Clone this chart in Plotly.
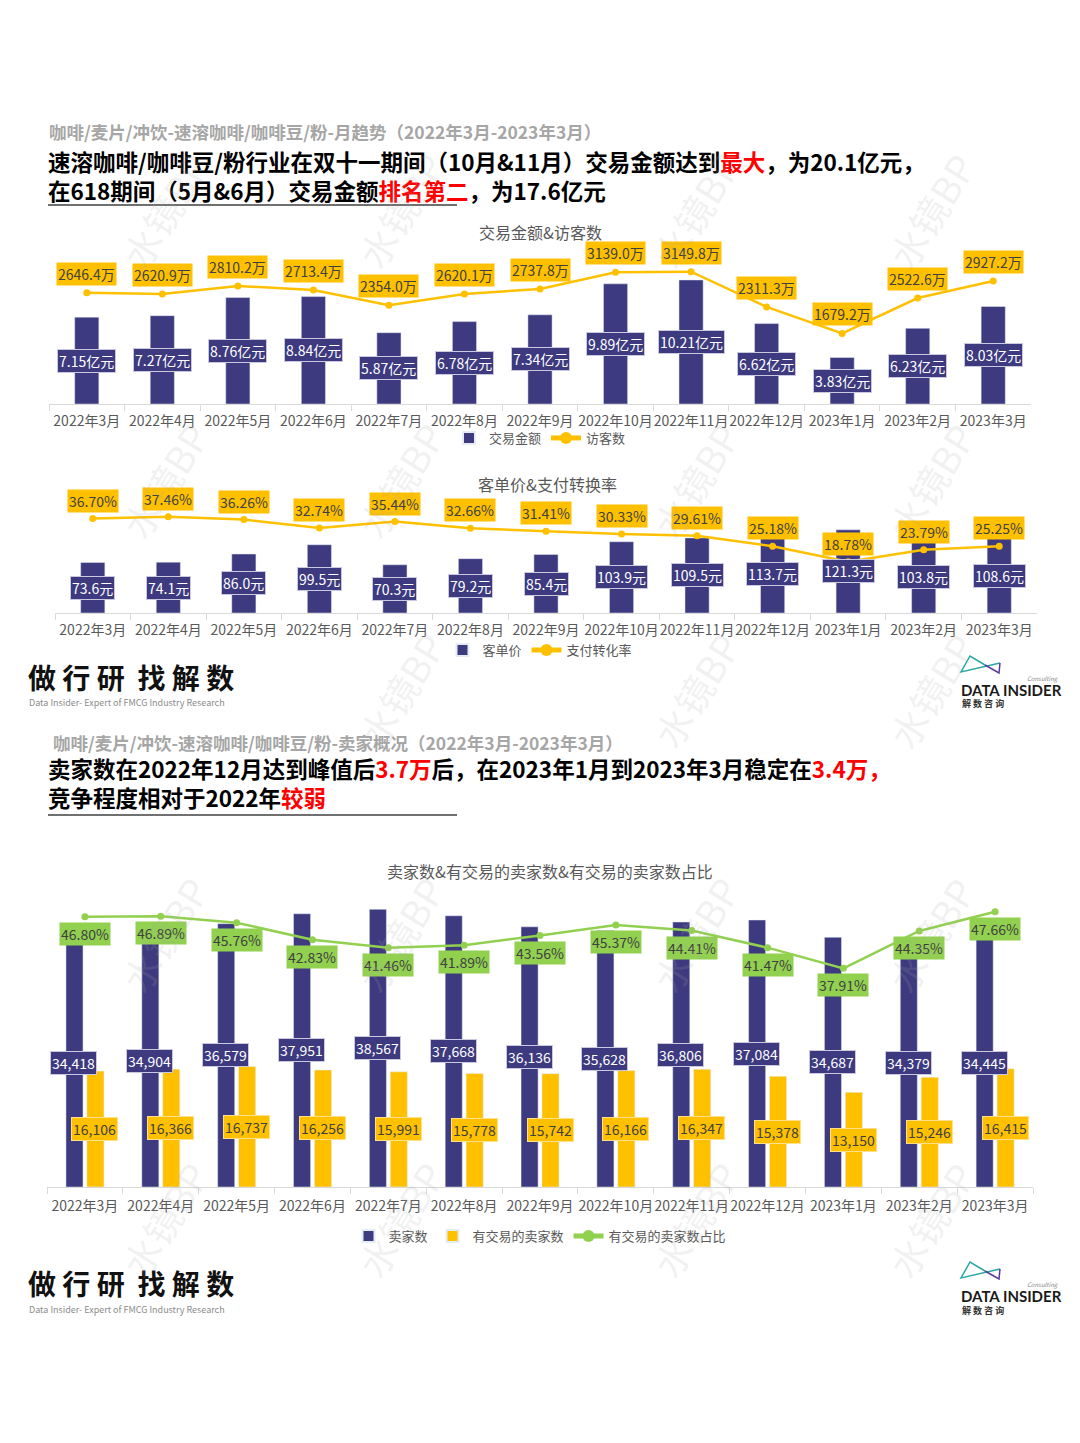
import plotly.graph_objects as go

# page body has an 8px margin; the figure is sized so it fills the 1080x1443 window exactly
OFF = 8
W, H = 1080 - 2 * OFF, 1443 - 2 * OFF
def px(x): return (x - OFF) / W
def py(y): return 1 - (y - OFF) / H

months = ["2022年3月", "2022年4月", "2022年5月", "2022年6月", "2022年7月", "2022年8月",
          "2022年9月", "2022年10月", "2022年11月", "2022年12月", "2023年1月", "2023年2月", "2023年3月"]

# Chart 1
gmv_yi = [7.15, 7.27, 8.76, 8.84, 5.87, 6.78, 7.34, 9.89, 10.21, 6.62, 3.83, 6.23, 8.03]
visitors_wan = [2646.4, 2620.9, 2810.2, 2713.4, 2354.0, 2620.1, 2737.8, 3139.0, 3149.8, 2311.3, 1679.2, 2522.6, 2927.2]
# Chart 2
aov_yuan = [73.6, 74.1, 86.0, 99.5, 70.3, 79.2, 85.4, 103.9, 109.5, 113.7, 121.3, 103.8, 108.6]
conv_pct = [36.70, 37.46, 36.26, 32.74, 35.44, 32.66, 31.41, 30.33, 29.61, 25.18, 18.78, 23.79, 25.25]
# Chart 3
sellers = [34418, 34904, 36579, 37951, 38567, 37668, 36136, 35628, 36806, 37084, 34687, 34379, 34445]
active_sellers = [16106, 16366, 16737, 16256, 15991, 15778, 15742, 16166, 16347, 15378, 13150, 15246, 16415]
active_ratio_pct = [46.80, 46.89, 45.76, 42.83, 41.46, 41.89, 43.56, 45.37, 44.41, 41.47, 37.91, 44.35, 47.66]

BLUE = "#3D3A7F"
YELLOW = "#FFC000"
GREEN = "#92D050"
FONT = "Noto Sans CJK SC"
GRAY = "#595959"
LBL = 14

fig = go.Figure()

# ---- chart 1 ----
fig.add_trace(go.Bar(x=months, y=gmv_yi, name="交易金额", marker_color=BLUE, width=0.32,
                     xaxis="x", yaxis="y", legend="legend"))
fig.add_trace(go.Scatter(x=months, y=visitors_wan, name="访客数", mode="lines+markers",
                         line=dict(color=YELLOW, width=2.5), marker=dict(size=7, color=YELLOW),
                         xaxis="x", yaxis="y2", legend="legend"))
# ---- chart 2 ----
fig.add_trace(go.Bar(x=months, y=aov_yuan, name="客单价", marker_color=BLUE, width=0.32,
                     xaxis="x2", yaxis="y3", legend="legend2"))
fig.add_trace(go.Scatter(x=months, y=conv_pct, name="支付转化率", mode="lines+markers",
                         line=dict(color=YELLOW, width=2.5), marker=dict(size=7, color=YELLOW),
                         xaxis="x2", yaxis="y4", legend="legend2"))
# ---- chart 3 ----
fig.add_trace(go.Bar(x=months, y=sellers, name="卖家数", marker_color=BLUE, width=0.225, offset=-0.25,
                     xaxis="x3", yaxis="y5", legend="legend3"))
fig.add_trace(go.Bar(x=months, y=active_sellers, name="有交易的卖家数", marker_color=YELLOW, width=0.225, offset=0.026,
                     xaxis="x3", yaxis="y5", legend="legend3"))
fig.add_trace(go.Scatter(x=months, y=active_ratio_pct, name="有交易的卖家数占比", mode="lines+markers",
                         line=dict(color=GREEN, width=2.5), marker=dict(size=7, color=GREEN),
                         xaxis="x3", yaxis="y6", legend="legend3"))

ann = []
for i, m in enumerate(months):
    ann.append(dict(x=m, y=gmv_yi[i] / 2, xref="x", yref="y", text=f"{gmv_yi[i]:.2f}亿元",
                    bgcolor=BLUE, bordercolor="#C9C8E0", borderwidth=1, borderpad=1,
                    font=dict(color="white", size=LBL, family=FONT), showarrow=False))
    ann.append(dict(x=m, y=visitors_wan[i], xref="x", yref="y2", text=f"{visitors_wan[i]:.1f}万",
                    yshift=19, bgcolor=YELLOW, borderpad=1,
                    font=dict(color="#404040", size=LBL, family=FONT), showarrow=False))
    ann.append(dict(x=m, y=aov_yuan[i] / 2, xref="x2", yref="y3", text=f"{aov_yuan[i]:.1f}元",
                    bgcolor=BLUE, bordercolor="#C9C8E0", borderwidth=1, borderpad=1,
                    font=dict(color="white", size=LBL, family=FONT), showarrow=False))
    ann.append(dict(x=m, y=conv_pct[i], xref="x2", yref="y4", text=f"{conv_pct[i]:.2f}%",
                    yshift=18, bgcolor=YELLOW, borderpad=1,
                    font=dict(color="#404040", size=LBL, family=FONT), showarrow=False))
    ann.append(dict(x=m, y=sellers[i] / 2, xref="x3", yref="y5", text=f"{sellers[i]:,}",
                    xshift=-11, bgcolor=BLUE, bordercolor="#C9C8E0", borderwidth=1, borderpad=1,
                    font=dict(color="white", size=LBL, family=FONT), showarrow=False))
    ann.append(dict(x=m, y=active_sellers[i] / 2, xref="x3", yref="y5", text=f"{active_sellers[i]:,}",
                    xshift=10, bgcolor=YELLOW, bordercolor="#FFE08A", borderwidth=1, borderpad=1,
                    font=dict(color="#404040", size=LBL, family=FONT), showarrow=False))
    ann.append(dict(x=m, y=active_ratio_pct[i], xref="x3", yref="y6", text=f"{active_ratio_pct[i]:.2f}%",
                    yshift=-17, bgcolor=GREEN, borderpad=1,
                    font=dict(color="#404040", size=LBL, family=FONT), showarrow=False))

def txt(x, y, text, size, color, xanchor="left", bold=False, family=FONT, angle=0):
    ann.append(dict(x=px(x), y=py(y), xref="paper", yref="paper", text=(f"<b>{text}</b>" if bold else text),
                    xanchor=xanchor, yanchor="middle", showarrow=False, textangle=angle, align="left",
                    font=dict(size=size, color=color, family=family)))

RED = "<span style='color:#FF0000'>"
# headers
txt(47, 131.5, "咖啡/麦片/冲饮-速溶咖啡/咖啡豆/粉-月趋势（2022年3月-2023年3月）", 17.5, "#A6A6A6", bold=True)
txt(46, 175, f"速溶咖啡/咖啡豆/粉行业在双十一期间（10月&11月）交易金额达到{RED}最大</span>，为20.1亿元，<br>"
             f"在618期间（5月&6月）交易金额{RED}排名第二</span>，为17.6亿元", 22.5, "#000000", bold=True)
txt(51, 742, "咖啡/麦片/冲饮-速溶咖啡/咖啡豆/粉-卖家概况（2022年3月-2023年3月）", 17.5, "#A6A6A6", bold=True)
txt(46, 782.5, f"卖家数在2022年12月达到峰值后{RED}3.7万</span>后，在2023年1月到2023年3月稳定在{RED}3.4万，</span><br>"
               f"竞争程度相对于2022年{RED}较弱</span>", 22.5, "#000000", bold=True)
# chart titles
txt(540, 232, "交易金额&访客数", 16, GRAY, xanchor="center")
txt(547, 484, "客单价&支付转换率", 16, GRAY, xanchor="center")
txt(550, 871, "卖家数&有交易的卖家数&有交易的卖家数占比", 16, GRAY, xanchor="center")

# logos
for ly in (677, 1283):
    txt(26, ly, "做 行 研  找 解 数", 28, "#111111", bold=True)
    txt(27, ly + 26, "Data Insider- Expert of FMCG Industry Research", 9, "#8C8C8C")
    txt(959, ly + 13, "DATA INSIDER", 15, "#1A1A1A", bold=True, family="Lato")
    txt(960, ly + 27, "<b>解 数 咨 询</b>", 9, "#333333")
    txt(1061, ly + 1, "<i>Consulting</i>", 6, "#8C8C8C", xanchor="right")

# watermarks
for wy in (140, 410, 690, 1005, 1290):
    for wx in (105, 400, 695, 990):
        if wy == 690 and wx == 105:
            continue
        ann.append(dict(x=px(wx), y=py(wy), xref="paper", yref="paper", text="水镜BP", showarrow=False,
                        textangle=-58, font=dict(size=38, color="rgba(170,170,170,0.16)", family=FONT)))

shapes = []
for uy in (205, 815):
    shapes.append(dict(type="line", xref="paper", yref="paper", x0=px(48), x1=px(457), y0=py(uy), y1=py(uy),
                       line=dict(color="#404040", width=1.5)))
for ly in (677, 1283):
    dy = ly - 677
    def P(x, y): return f"{px(x)},{py(y + dy)}"
    shapes.append(dict(type="path", xref="paper", yref="paper",
                       path=f"M{P(1000,663)} L{P(961,672)} L{P(970,656)} L{P(985,665)}",
                       line=dict(color="#2BA7A3", width=1.5)))
    shapes.append(dict(type="path", xref="paper", yref="paper",
                       path=f"M{P(985,665)} L{P(999,673)} L{P(1000,663)}",
                       line=dict(color="#5B3A9E", width=1.5)))

xcommon = dict(type="category", range=[-0.5, len(months) - 0.5], autorange=False,
               showline=True, linecolor="#D9D9D9", linewidth=1, ticks="outside",
               tickson="boundaries", ticklen=6, tickcolor="#D9D9D9", tickangle=0,
               tickfont=dict(size=14, color=GRAY, family=FONT), showgrid=False, fixedrange=True)
ycommon = dict(showgrid=False, showticklabels=False, zeroline=False, showline=False, fixedrange=True)

def legend(y):
    return dict(orientation="h", x=px(540), xanchor="center", y=py(y), yanchor="middle",
                font=dict(size=13, color=GRAY, family=FONT), bgcolor="rgba(0,0,0,0)",
                itemsizing="constant", tracegroupgap=0, itemwidth=30)

fig.update_layout(
    width=W, height=H, margin=dict(l=0, r=0, t=0, b=0),
    paper_bgcolor="white", plot_bgcolor="rgba(0,0,0,0)",
    barmode="overlay", font=dict(family=FONT),
    xaxis=dict(xcommon, domain=[px(49), px(1031)], anchor="y", ticklabelstandoff=4),
    yaxis=dict(ycommon, domain=[py(404), py(245)], range=[0, (404 - 245) / 12.15], anchor="x"),
    yaxis2=dict(ycommon, overlaying="y", range=[0, (404 - 245) / 0.042], anchor="x"),
    xaxis2=dict(xcommon, domain=[px(55), px(1037)], anchor="y3", ticklabelstandoff=4),
    yaxis3=dict(ycommon, domain=[py(613), py(470)], range=[0, (613 - 470) / 0.686], anchor="x2"),
    yaxis4=dict(ycommon, overlaying="y3", range=[-(613 - 607) / 2.41, (607 - 470) / 2.41], anchor="x2"),
    xaxis3=dict(xcommon, domain=[px(47), px(1033)], anchor="y5", ticklabelstandoff=6),
    yaxis5=dict(ycommon, domain=[py(1187), py(895)], range=[0, (1187 - 895) / 0.0072], anchor="x3"),
    yaxis6=dict(ycommon, overlaying="y5", range=[(1188.6 - 1187) / 5.81, (1188.6 - 895) / 5.81], anchor="x3"),
    legend=legend(438), legend2=legend(650), legend3=legend(1236),
    annotations=ann, shapes=shapes, showlegend=True,
)

fig.write_html("out.html")
